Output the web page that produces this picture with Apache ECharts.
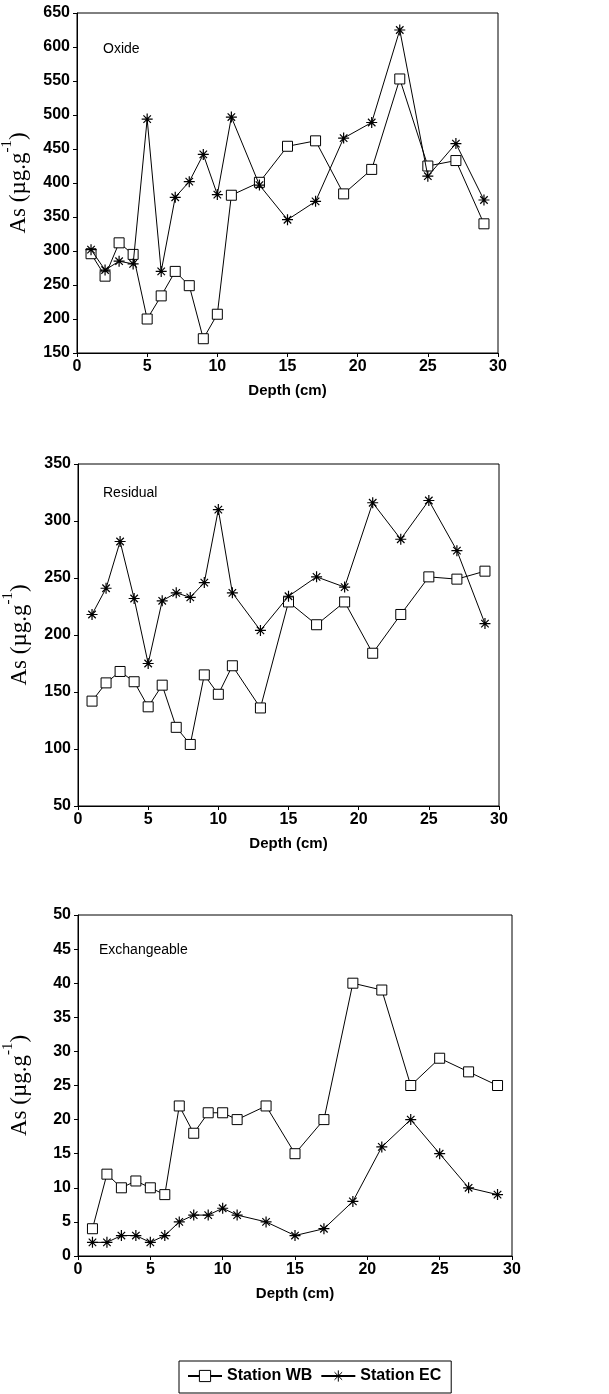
<!DOCTYPE html>
<html>
<head>
<meta charset="utf-8">
<script src="https://cdn.jsdelivr.net/npm/echarts@6/dist/echarts.min.js"></script>
<style>html,body{margin:0;padding:0;background:#fff}#c{width:609px;height:1394px}</style>
</head>
<body>
<div id="c"></div>
<script>
var depth = [1,2,3,4,5,6,7,8,9,10,11,13,15,17,19,21,23,25,27,29];
var oxideWB = [296,263,312,295,200,234,270,249,171,207,382,401,454,462,384,420,553,425,433,340];
var oxideEC = [302,272,285,281,494,270,379,402,442,383,497,397,346,373,466,489,625,410,458,375];
var residualWB = [142,158,168,159,137,156,119,104,165,148,173,136,229,209,229,184,218,251,249,256];
var residualEC = [218,241,282,232,175,230,237,233,246,310,237,204,234,251,242,316,284,318,274,210];
var exchWB = [4,12,10,11,10,9,22,18,21,21,20,22,15,20,40,39,25,29,27,25];
var exchEC = [2,2,3,3,2,3,5,6,6,7,6,5,3,4,8,16,20,15,10,9];
var panelNames = ['Oxide','Residual','Exchangeable'];
var xTicks = {min:0, max:30, interval:5};
var yTicks = [{min:150,max:650,interval:50},{min:50,max:350,interval:50},{min:0,max:50,interval:5}];

var sans = 'Liberation Sans, Arial, sans-serif';
var serif = 'Liberation Serif, Times New Roman, serif';
var star = 'path://M0 5L10 5M5 0L5 10M1.6 1.6L8.4 8.4M8.4 1.6L1.6 8.4';

function pairs(v){ return depth.map(function(d,i){return [d, v[i]];}); }

var grids = [
  {left:77, right:111, top:13, height:340},
  {left:78, right:110, top:464, height:342},
  {left:78, right:97, top:915, height:341}
];
var titlePos = [{left:103, top:42},{left:103, top:486},{left:99, top:943}];

var xAxes = [], yAxes = [], series = [], titles = [];
var wb = [oxideWB, residualWB, exchWB];
var ec = [oxideEC, residualEC, exchEC];
grids.forEach(function(g, i){
  g.show = true; g.borderColor = '#000'; g.borderWidth = 1; g.backgroundColor = 'transparent';
  g.containLabel = false; g.outerBoundsMode = 'none';
  xAxes.push({
    type:'value', gridIndex:i, min:xTicks.min, max:xTicks.max, interval:xTicks.interval,
    name:'Depth (cm)', nameLocation:'middle', nameGap:30,
    nameTextStyle:{fontFamily:sans, fontWeight:'bold', fontSize:15, color:'#000'},
    axisLine:{lineStyle:{color:'#000', width:1}},
    axisTick:{length:4, lineStyle:{color:'#000'}},
    axisLabel:{fontFamily:sans, fontWeight:'bold', fontSize:16, color:'#000', margin:6},
    splitLine:{show:false}
  });
  yAxes.push({
    type:'value', gridIndex:i, min:yTicks[i].min, max:yTicks[i].max, interval:yTicks[i].interval,
    name:'{a|As (µg.g}{s|-1}{a|)}', nameLocation:'middle', nameGap:47, nameRotate:90,
    nameTextStyle:{rich:{
      a:{fontFamily:serif, fontSize:23, color:'#000', lineHeight:30, verticalAlign:'bottom'},
      s:{fontFamily:serif, fontSize:15, color:'#000', lineHeight:15, verticalAlign:'top'}
    }},
    axisLine:{lineStyle:{color:'#000', width:1}},
    axisTick:{length:4, lineStyle:{color:'#000'}},
    axisLabel:{fontFamily:sans, fontWeight:'bold', fontSize:16, color:'#000', margin:7},
    splitLine:{show:false}
  });
  titles.push({text:panelNames[i], left:titlePos[i].left, top:titlePos[i].top, padding:0,
    textStyle:{fontFamily:sans, fontWeight:'normal', fontSize:14, color:'#000'}});
  series.push({
    name:'Station WB', type:'line', xAxisIndex:i, yAxisIndex:i, data:pairs(wb[i]),
    symbol:'rect', symbolSize:10, showAllSymbol:true, z:3,
    lineStyle:{color:'#000', width:1},
    itemStyle:{color:'#fff', borderColor:'#000', borderWidth:1}
  });
  series.push({
    name:'Station EC', type:'line', xAxisIndex:i, yAxisIndex:i, data:pairs(ec[i]),
    symbol:star, symbolSize:11, showAllSymbol:true, z:4,
    lineStyle:{color:'#000', width:1},
    itemStyle:{color:'#000', borderColor:'#000', borderWidth:1.2}
  });
});

var chart = echarts.init(document.getElementById('c'), null, {renderer:'canvas'});
chart.setOption({
  animation:false,
  backgroundColor:'#fff',
  title:titles,
  grid:grids,
  xAxis:xAxes,
  yAxis:yAxes,
  legend:{
    data:['Station WB','Station EC'], left:179, top:1361,
    borderColor:'#000', borderWidth:1, padding:[7,10,9,8], itemGap:8,
    itemWidth:34, itemHeight:14,
    itemStyle:{borderWidth:1},
    textStyle:{fontFamily:sans, fontWeight:'bold', fontSize:16, color:'#000'}
  },
  series:series
});
</script>
</body>
</html>
